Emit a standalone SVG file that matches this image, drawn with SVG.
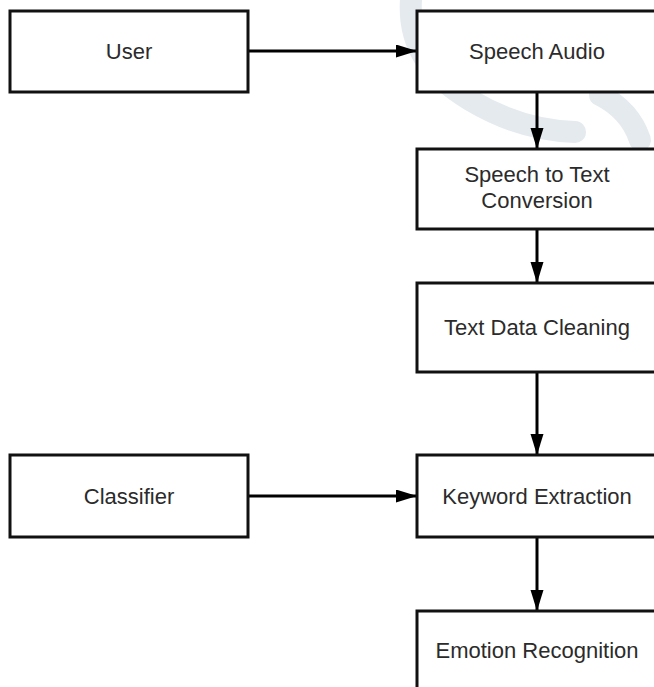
<svg xmlns="http://www.w3.org/2000/svg" width="654" height="687" viewBox="0 0 654 687">
  <style>
    .box { fill: #ffffff; stroke: #111111; stroke-width: 3; }
    .lbl { font-family: "Liberation Sans", Arial, sans-serif; font-size: 22px; fill: #2b2b2b; text-anchor: middle; }
    .edge { stroke: #000000; stroke-width: 3; fill: none; marker-end: url(#arrow); }
    .wm { fill: none; stroke: #e4eaee; stroke-width: 22; stroke-linecap: round; }
  </style>
  <defs>
    <marker id="arrow" markerUnits="userSpaceOnUse" markerWidth="22" markerHeight="14" refX="20" refY="6.5" orient="auto">
      <path d="M0,0 L21,6.5 L0,13 z" fill="#000000"/>
    </marker>
  </defs>
  <rect width="654" height="687" fill="#ffffff"/>
  <g id="watermark">
    <path class="wm" d="M412,-10 Q402,60 470,100 Q520,130 575,132"/>
    <path class="wm" d="M600,95 Q630,110 640,140"/>
  </g>
  <g id="connectors">
    <line class="edge" x1="248" y1="51" x2="416" y2="51"/>
    <line class="edge" x1="537" y1="92" x2="537" y2="148"/>
    <line class="edge" x1="537" y1="229" x2="537" y2="282"/>
    <line class="edge" x1="537" y1="372" x2="537" y2="454"/>
    <line class="edge" x1="248" y1="496" x2="416" y2="496"/>
    <line class="edge" x1="537" y1="537" x2="537" y2="610"/>
  </g>
  <g id="user">
    <rect class="box" x="10" y="11" width="238" height="81"/>
    <text class="lbl" x="129" y="59">User</text>
  </g>
  <g id="speech-audio">
    <rect class="box" x="417" y="11" width="240" height="81"/>
    <text class="lbl" x="537" y="59">Speech Audio</text>
  </g>
  <g id="speech-to-text">
    <rect class="box" x="417" y="149" width="240" height="80"/>
    <text class="lbl" x="537" y="182">Speech to Text</text>
    <text class="lbl" x="537" y="208">Conversion</text>
  </g>
  <g id="text-cleaning">
    <rect class="box" x="417" y="283" width="240" height="89"/>
    <text class="lbl" x="537" y="335">Text Data Cleaning</text>
  </g>
  <g id="classifier">
    <rect class="box" x="10" y="455" width="238" height="82"/>
    <text class="lbl" x="129" y="504">Classifier</text>
  </g>
  <g id="keyword-extraction">
    <rect class="box" x="417" y="455" width="240" height="82"/>
    <text class="lbl" x="537" y="504">Keyword Extraction</text>
  </g>
  <g id="emotion-recognition">
    <rect class="box" x="417" y="611" width="240" height="82"/>
    <text class="lbl" x="537" y="658">Emotion Recognition</text>
  </g>
</svg>
